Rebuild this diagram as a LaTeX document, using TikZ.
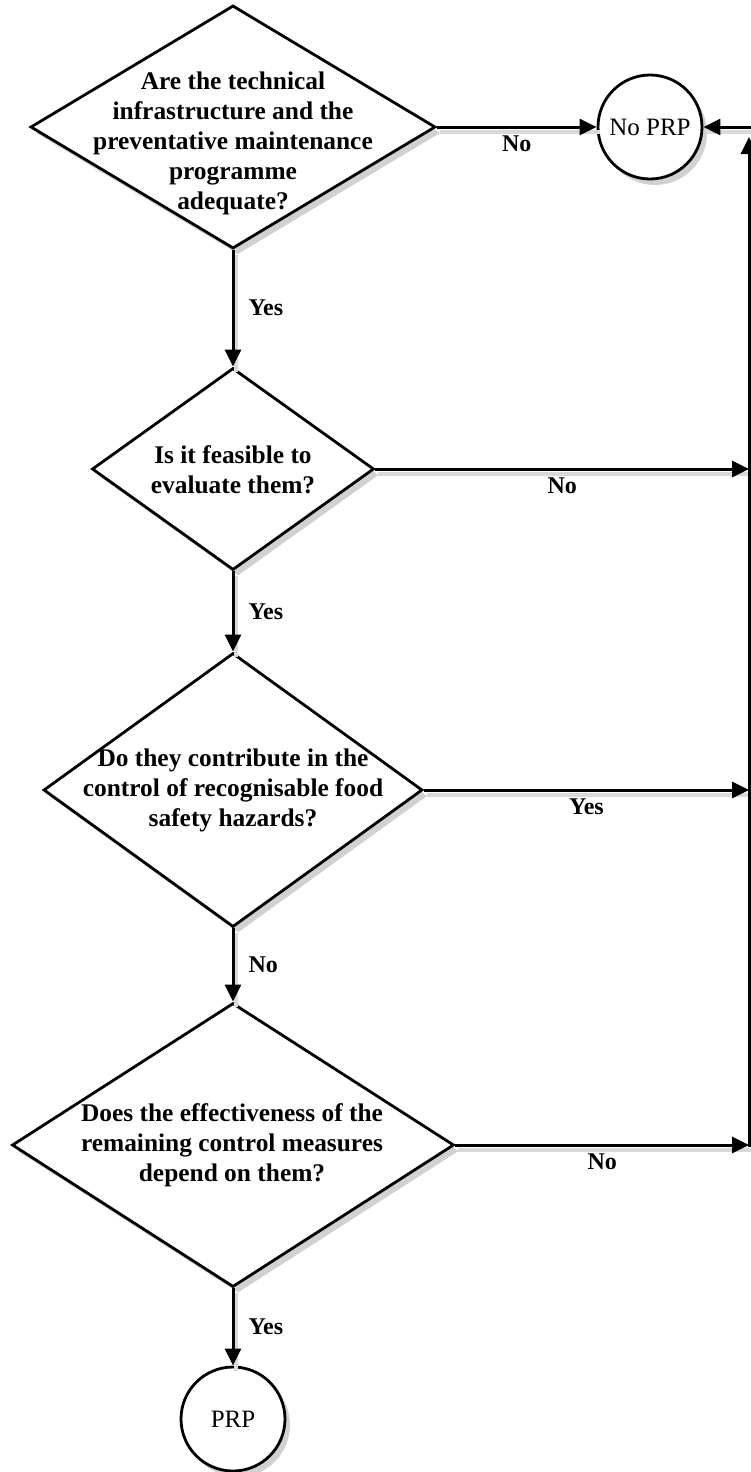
\documentclass[tikz,border=0pt]{standalone}
\usepackage{fontspec}
\setmainfont{Liberation Serif}
\usetikzlibrary{shapes,arrows.meta,positioning,shadows}

\begin{document}
\begin{tikzpicture}[x=1pt,y=-1pt,>={Triangle[length=17pt,width=16pt]}]
    \tikzstyle{decision}=[diamond,draw,line width=2.8pt,fill=white,inner sep=0pt,
        drop shadow={shadow xshift=5pt,shadow yshift=-6pt,fill=black!18,opacity=1}]
    \tikzstyle{terminal}=[circle,draw,line width=2.8pt,fill=white,minimum size=104pt,inner sep=0pt,
        font=\fontsize{25}{28}\selectfont,
        drop shadow={shadow xshift=5pt,shadow yshift=-6pt,fill=black!18,opacity=1}]
    \tikzstyle{question}=[align=center,inner sep=0pt,font=\bfseries\fontsize{25.4}{30}\selectfont]
    \tikzstyle{answer}=[inner sep=0pt,font=\bfseries\fontsize{24}{28}\selectfont]
    \tikzstyle{flow}=[->,line width=3pt,
        preaction={draw=black!15,line width=4pt,-,transform canvas={xshift=3pt,yshift=-5pt}}]

    \useasboundingbox (0,0) rectangle (750,1472);

    % Draw the decision diamonds
    \node[decision,minimum width=405pt,minimum height=243pt] (q1) at (233,127) {};
    \node[decision,minimum width=282pt,minimum height=202pt] (q2) at (233,469) {};
    \node[decision,minimum width=379pt,minimum height=274pt] (q3) at (233,790) {};
    \node[decision,minimum width=442pt,minimum height=284pt] (q4) at (233,1145) {};

    % Questions inside the diamonds
    \node[question] (q1-text) at (233,143) {Are the technical\\infrastructure and the\\preventative maintenance\\programme\\adequate?};
    \node[question] (q2-text) at (233,470) {Is it feasible to\\evaluate them?};
    \node[question] (q3-text) at (233,790) {Do they contribute in the\\control of recognisable food\\safety hazards?};
    \node[question] (q4-text) at (232,1145) {Does the effectiveness of the\\remaining control measures\\depend on them?};

    % Draw the outcomes
    \node[terminal] (noprp) at (650,127) {No PRP};
    \node[terminal] (prp) at (233,1419) {PRP};

    % Return line on the right
    \coordinate (bus-top) at (749,137);
    \coordinate (bus-bottom) at (749,1147);
    \coordinate (bus-in) at (751,127);

    % Answers going down
    \foreach \src / \dst / \ans in {q1/q2/Yes,q2/q3/Yes,q3/q4/No,q4/prp/Yes}
        \draw[flow] (\src.south) -- node[answer,right=14pt] {\ans} (\dst.north);

    % Answers going to the right
    \draw[flow] (q1.east) -- node[answer,below=7pt] {No} (noprp.west);
    \foreach \src / \ans in {q2/No,q3/Yes,q4/No}
        \draw[flow] (\src.east) -- node[answer,below=7pt] {\ans} (\src.east -| bus-top);

    \draw[flow] (bus-bottom) -- (bus-top);
    \draw[flow] (bus-in) -- (noprp.east);

\end{tikzpicture}
\end{document}
